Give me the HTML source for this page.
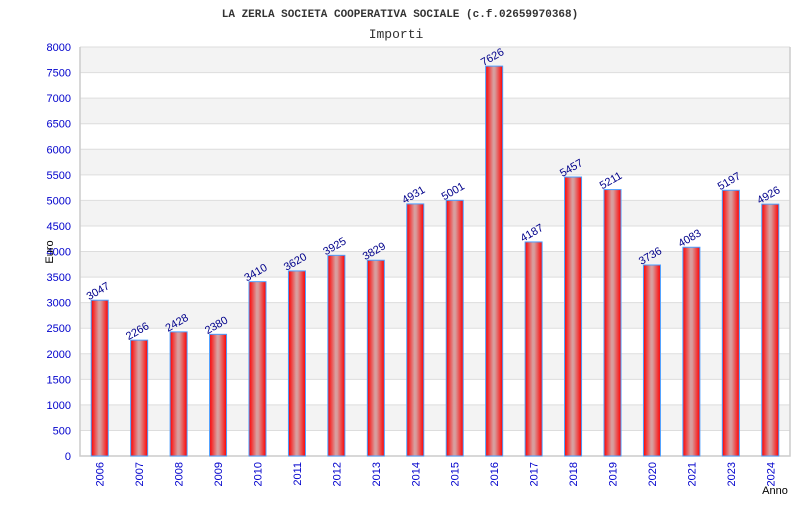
<!DOCTYPE html>
<html><head><meta charset="utf-8"><style>
body{margin:0;background:#fff;width:800px;height:500px;overflow:hidden}
svg{font-family:"Liberation Sans",sans-serif}
</style></head><body>
<svg id="c" width="800" height="500">
<defs><linearGradient id="g" x1="0" x2="1" y1="0" y2="0">
<stop offset="0" stop-color="#ff0000"/><stop offset="0.45" stop-color="#d8a0a0"/><stop offset="0.55" stop-color="#d89a9a"/><stop offset="1" stop-color="#ff0000"/></linearGradient></defs>
<text x="400" y="17" text-anchor="middle" font-family="Liberation Mono,monospace" font-size="11" font-weight="bold" fill="#333">LA ZERLA SOCIETA COOPERATIVA SOCIALE (c.f.02659970368)</text>
<text x="396" y="38" text-anchor="middle" font-family="Liberation Mono,monospace" font-size="13" fill="#333">Importi</text>
<g id="grid"></g><g id="bars"></g><g id="labels"></g>
<text x="53" y="252" transform="rotate(-90 53 252)" text-anchor="middle" font-size="11" fill="#000">Euro</text>
<text x="775" y="494" text-anchor="middle" font-size="11" fill="#000">Anno</text>
</svg>
<script>
const years=["2006","2007","2008","2009","2010","2011","2012","2013","2014","2015","2016","2017","2018","2019","2020","2021","2023","2024"];
const values=[3047,2266,2428,2380,3410,3620,3925,3829,4931,5001,7626,4187,5457,5211,3736,4083,5197,4926];
const yTicks=[0,500,1000,1500,2000,2500,3000,3500,4000,4500,5000,5500,6000,6500,7000,7500,8000];
const NS="http://www.w3.org/2000/svg";
const L=80,R=790,T=47,B=456,max=8000;
const y=v=>B-(v/max)*(B-T);
const step=(R-L)/years.length;
const x=i=>L+step*(i+0.5);
function mk(t,a,p){const e=document.createElementNS(NS,t);for(const k in a)e.setAttribute(k,a[k]);p.appendChild(e);return e;}
const grid=document.getElementById('grid'),bars=document.getElementById('bars'),labels=document.getElementById('labels');
for(let i=0;i<yTicks.length-1;i++){
  if((yTicks.length-2-i)%2===0){const r=mk('rect',{x:L,y:y(yTicks[i+1]),width:R-L,height:y(yTicks[i])-y(yTicks[i+1]),fill:'#f3f3f3'},grid);
  
  }
}
yTicks.forEach(v=>{
  const l=mk('line',{x1:L,x2:R,y1:y(v),y2:y(v),stroke:'#ddd','stroke-width':1},grid);
  
  
  const t=mk('text',{x:71,y:y(v)+4,'text-anchor':'end','font-size':11,fill:'#00c'},labels);
  t.textContent=v;
  
  
});
const ax=mk('path',{d:`M${L},${T}V${B}H${R}V${T}`,stroke:'#ccc',fill:'none','stroke-width':1.5},grid);


years.forEach((yr,i)=>{
  const cx=x(i),w=17;
  const b=mk('rect',{x:cx-w/2,y:y(values[i]),width:w,height:B-y(values[i]),fill:'url(#g)',stroke:'#4a9eff','stroke-width':1},bars);
  
  
  const v=mk('text',{x:cx,y:y(values[i])-6,'text-anchor':'middle','font-size':11,fill:'#00008b',transform:`rotate(-30 ${cx} ${y(values[i])-6})`},labels);
  v.textContent=values[i];
  
  
  const t=mk('text',{x:cx+4,y:B+6,'text-anchor':'end','font-size':11,fill:'#00c',transform:`rotate(-90 ${cx+4} ${B+6})`},labels);
  t.textContent=yr;
  
  
});
</script>
</body></html>
